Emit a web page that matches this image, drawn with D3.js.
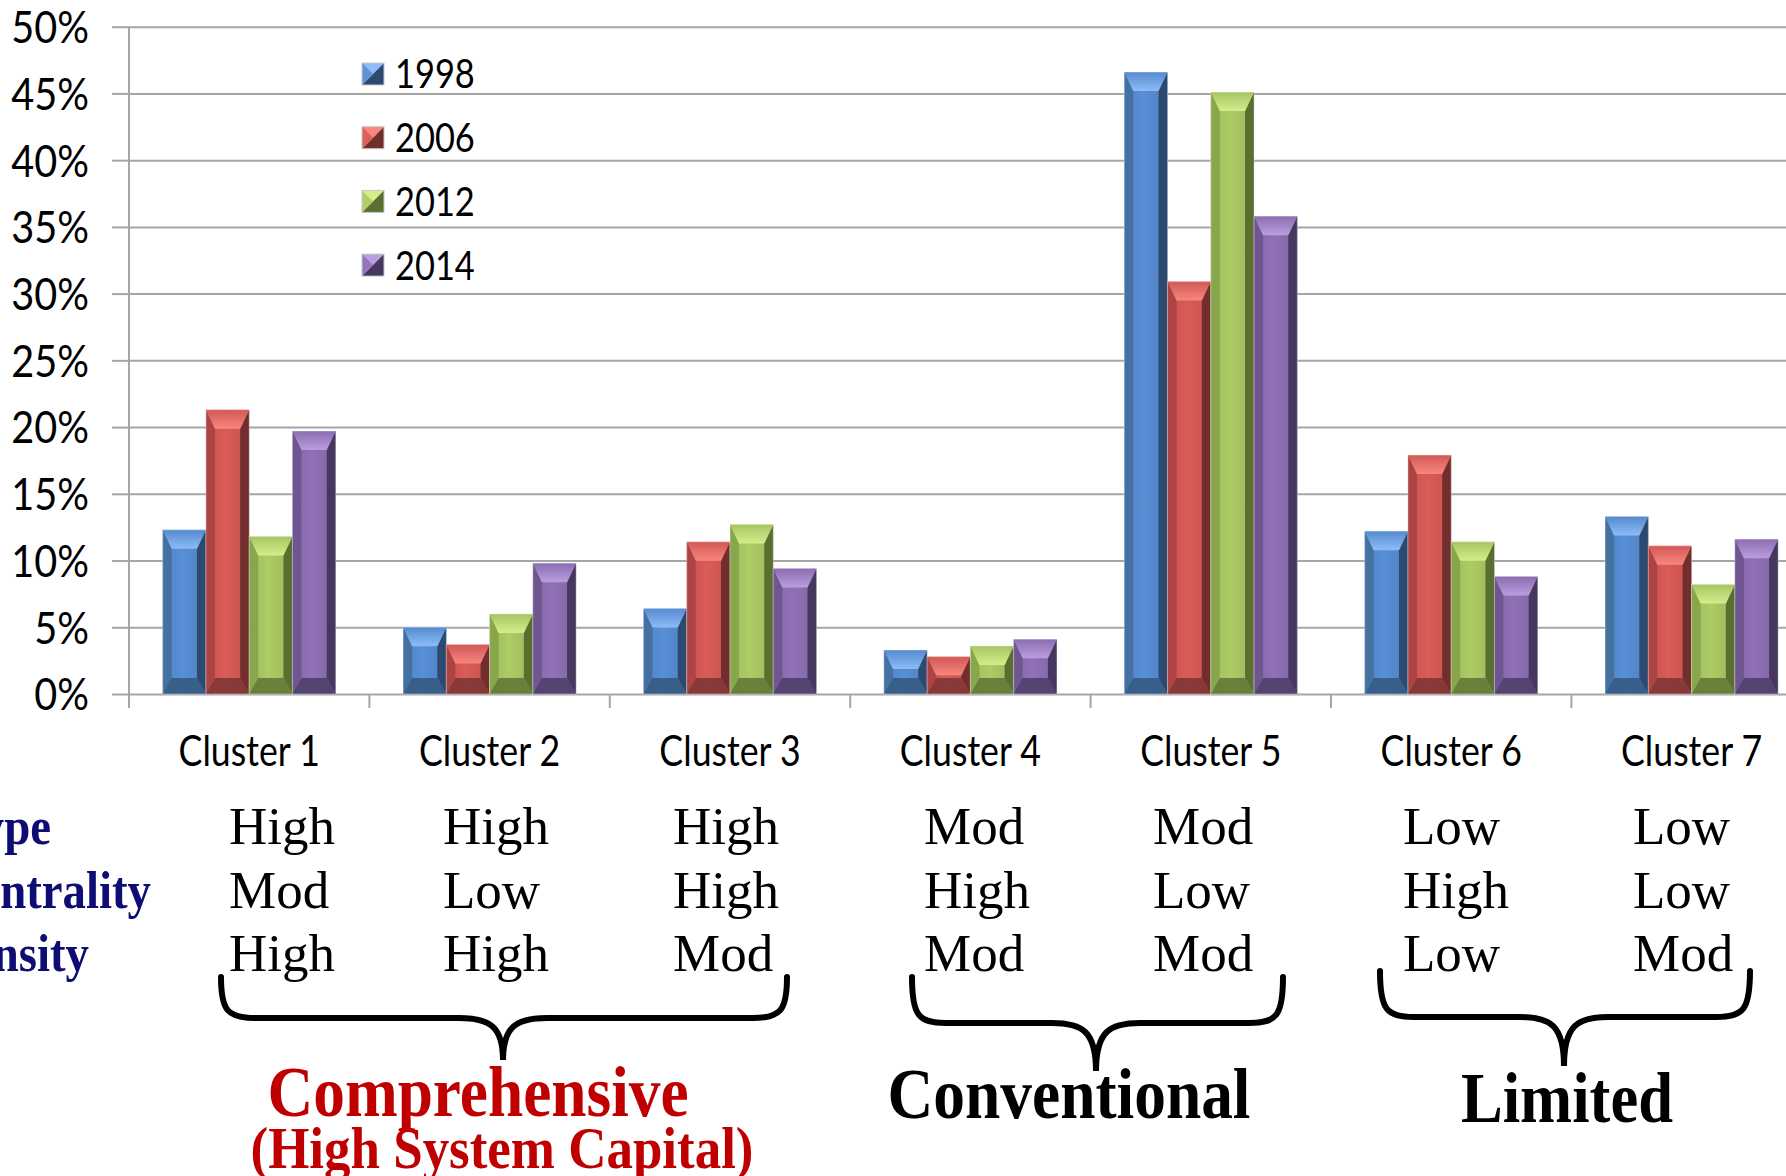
<!DOCTYPE html>
<head>
<meta charset="utf-8">
<style>
  body { margin: 0; background: #fff; }
  svg { display: block; }
  .grid line { stroke: #a6a6a6; stroke-width: 2; }
  .grid path { display: none; }
  .axis path, .axis line { stroke: #a6a6a6; stroke-width: 2; }
  .axis text { font-family: Lato, sans-serif; fill: #000; }
</style>
<title>Clusters 1998-2014</title>
</head>
<body>
<svg width="1786" height="1176"></svg>
<script src="https://cdn.jsdelivr.net/npm/d3@7"></script>
<script>

// data
var clusters = ["Cluster 1", "Cluster 2", "Cluster 3", "Cluster 4", "Cluster 5", "Cluster 6", "Cluster 7"];
var years = ["1998", "2006", "2012", "2014"];
var v1998 = [12.3, 5.0, 6.4, 3.3, 46.6, 12.2, 13.3];
var v2006 = [21.3, 3.7, 11.4, 2.8, 30.9, 17.9, 11.1];
var v2012 = [11.8, 6.0, 12.7, 3.6, 45.1, 11.4, 8.2];
var v2014 = [19.7, 9.8, 9.4, 4.1, 35.8, 8.8, 11.6];
var yTicks = [0, 5, 10, 15, 20, 25, 30, 35, 40, 45, 50];

var rowNames = ["Type", "Centrality", "Density"];
var rowType = ["High", "High", "High", "Mod", "Mod", "Low", "Low"];
var rowCentrality = ["Mod", "Low", "High", "High", "Low", "High", "Low"];
var rowDensity = ["High", "High", "Mod", "Mod", "Mod", "Low", "Mod"];

var groupNames = ["Comprehensive", "Conventional", "Limited"];
var groupSub = ["(High System Capital)", "", ""];

var series = [v1998, v2006, v2012, v2014];

// colours: face, left, right, top, bottom
var pal = {
  "1998": ["#558ace", "#44719f", "#2c4a70", "#8dbcf8", "#34577f"],
  "2006": ["#d25855", "#ac4443", "#722e2d", "#f7877f", "#7a3534"],
  "2012": ["#a6c562", "#88a64c", "#5a6e2f", "#d3ee8c", "#5f7434"],
  "2014": ["#8b6db0", "#6f5690", "#45375e", "#b99ee0", "#4b3d66"]
};

var svg = d3.select("svg"),
    W = +svg.attr("width");

var mLeft = 129, mTop = 26.7, mBottom = 694, band = 240.4;

var x0 = d3.scaleBand().domain(clusters).range([mLeft, mLeft + band * clusters.length]);
var x1 = d3.scaleBand().domain(years).range([33.7, band - 33.7]);
var y = d3.scaleLinear().domain([0, 50]).range([mBottom, mTop]);

// condense text (Calibri-like width)
function condense(sel, f) {
  sel.each(function() {
    var len = this.getComputedTextLength();
    d3.select(this).attr("textLength", len * f).attr("lengthAdjust", "spacingAndGlyphs");
  });
}

// gridlines
svg.append("g")
    .attr("class", "grid")
    .attr("transform", "translate(" + mLeft + ",0)")
    .call(d3.axisLeft(y).tickValues(yTicks).tickSize(-(W - mLeft)).tickFormat(""));

// y axis
var yAx = svg.append("g")
    .attr("class", "axis")
    .attr("transform", "translate(" + mLeft + ",0)")
    .call(d3.axisLeft(y).tickValues(yTicks).tickSize(17).tickPadding(23).tickFormat(function(d) { return d + "%"; }));
yAx.select(".domain").attr("d", "M0," + mTop + "V" + (mBottom + 14));
yAx.selectAll("text").style("font-size", "44px").attr("dy", "0.36em").call(condense, 0.9);

// x axis
var xAx = svg.append("g")
    .attr("class", "axis")
    .attr("transform", "translate(0," + mBottom + ")")
    .call(d3.axisBottom(x0).tickSize(0).tickPadding(72));
xAx.select(".domain").remove();
xAx.selectAll(".tick line").remove();
xAx.selectAll("text").style("font-size", "42px").attr("dy", "0").call(condense, 0.85);
svg.append("g").selectAll("line")
    .data(clusters)
  .enter().append("line")
    .attr("x1", function(d) { return x0(d); })
    .attr("x2", function(d) { return x0(d); })
    .attr("y1", mBottom)
    .attr("y2", mBottom + 14)
    .attr("stroke", "#a6a6a6")
    .attr("stroke-width", 2);

// bars
var flat = [];
clusters.forEach(function(c, i) {
  years.forEach(function(yr, j) {
    flat.push({ cluster: c, year: yr, value: series[j][i] });
  });
});

var defs = svg.append("defs");
years.forEach(function(yr) {
  var g = defs.append("linearGradient").attr("id", "face" + yr);
  g.append("stop").attr("offset", "0%").attr("stop-color", d3.color(pal[yr][0]).darker(0.15));
  g.append("stop").attr("offset", "45%").attr("stop-color", d3.color(pal[yr][0]).brighter(0.1));
  g.append("stop").attr("offset", "100%").attr("stop-color", d3.color(pal[yr][0]).darker(0.2));
  var t = defs.append("linearGradient").attr("id", "top" + yr).attr("x1", 0).attr("y1", 0).attr("x2", 0).attr("y2", 1);
  t.append("stop").attr("offset", "0%").attr("stop-color", pal[yr][0]);
  t.append("stop").attr("offset", "100%").attr("stop-color", pal[yr][3]);
});

svg.append("g").selectAll("g")
    .data(flat)
  .enter().append("g")
    .each(function(d) {
      var g = d3.select(this);
      var x = x0(d.cluster) + x1(d.year), w = x1.bandwidth();
      var yt = y(d.value), yb = y(0), h = yb - yt;
      var s = 9, t = Math.min(19, h / 2), b = Math.min(16, h / 2);
      var p = pal[d.year];
      g.append("rect").attr("x", x).attr("y", yt).attr("width", w).attr("height", h)
          .attr("fill", "url(#face" + d.year + ")");
      g.append("polygon").attr("fill", p[1])
          .attr("points", [[x, yt], [x + s, yt + t], [x + s, yb - b], [x, yb]].join(" "));
      g.append("polygon").attr("fill", p[2])
          .attr("points", [[x + w, yt], [x + w - s, yt + t], [x + w - s, yb - b], [x + w, yb]].join(" "));
      g.append("polygon").attr("fill", "url(#top" + d.year + ")")
          .attr("points", [[x, yt], [x + w, yt], [x + w - s, yt + t], [x + s, yt + t]].join(" "));
      g.append("polygon").attr("fill", p[4]).attr("opacity", 0.85)
          .attr("points", [[x, yb], [x + w, yb], [x + w - s, yb - b], [x + s, yb - b]].join(" "));
      g.append("rect").attr("x", x).attr("y", yt).attr("width", w).attr("height", h)
          .attr("fill", "none").attr("stroke", "rgba(255,255,255,0.35)").attr("stroke-width", 1);
    });

// legend
var legend = svg.append("g").attr("transform", "translate(362,63)");
var li = legend.selectAll("g")
    .data(years)
  .enter().append("g")
    .attr("transform", function(d, i) { return "translate(0," + (i * 63.7) + ")"; });
li.append("polygon").attr("fill", function(d) { return pal[d][3]; })
    .attr("points", "0,0 22,0 0,22");
li.append("polygon").attr("fill", function(d) { return pal[d][2]; })
    .attr("points", "22,0 22,22 0,22");
li.append("polygon").attr("fill", function(d) { return pal[d][0]; }).attr("opacity", 0.8)
    .attr("points", "0,0 11,11 0,22");
li.append("rect").attr("width", 22).attr("height", 22)
    .attr("fill", "none").attr("stroke", "#c8c8c8").attr("stroke-width", 1);
li.append("text")
    .attr("x", 33).attr("y", 11).attr("dy", "0.36em")
    .style("font-family", "Lato, sans-serif").style("font-size", "40px")
    .text(function(d) { return d; })
    .call(condense, 0.86);

// property table
var tableX = [229, 443, 673, 924, 1153, 1403, 1633];
var rowY = [844, 908, 971];
var rows = [rowType, rowCentrality, rowDensity];
var serif = "'Liberation Serif', 'Times New Roman', serif";

svg.append("g").selectAll("text")
    .data(rowNames)
  .enter().append("text")
    .attr("x", function(d, i) { return [51, 151, 89][i]; })
    .attr("y", function(d, i) { return rowY[i]; })
    .attr("text-anchor", "end")
    .style("font-family", serif).style("font-weight", "bold").style("font-size", "52px")
    .style("fill", "#0d0d73")
    .text(function(d) { return d; })
    .call(condense, 0.9);

rows.forEach(function(r, i) {
  svg.append("g").selectAll("text")
      .data(r)
    .enter().append("text")
      .attr("x", function(d, j) { return tableX[j]; })
      .attr("y", rowY[i])
      .style("font-family", serif).style("font-size", "53px")
      .text(function(d) { return d; });
});

// braces
var braces = [
  { x1: 221, x2: 787, tip: 503, yt: 977, ym: 1018, yp: 1060 },
  { x1: 912, x2: 1283, tip: 1096, yt: 977, ym: 1023, yp: 1071 },
  { x1: 1380, x2: 1750, tip: 1564, yt: 971, ym: 1017, yp: 1066 }
];
function bracePath(b) {
  var r = 34, q = 44;
  return "M" + b.x1 + "," + b.yt +
    "C" + b.x1 + "," + (b.ym - 8) + " " + (b.x1 + 6) + "," + b.ym + " " + (b.x1 + r) + "," + b.ym +
    "L" + (b.tip - q) + "," + b.ym +
    "C" + (b.tip - 14) + "," + b.ym + " " + b.tip + "," + (b.ym + 8) + " " + b.tip + "," + b.yp +
    "C" + b.tip + "," + (b.ym + 8) + " " + (b.tip + 14) + "," + b.ym + " " + (b.tip + q) + "," + b.ym +
    "L" + (b.x2 - r) + "," + b.ym +
    "C" + (b.x2 - 6) + "," + b.ym + " " + b.x2 + "," + (b.ym - 8) + " " + b.x2 + "," + b.yt;
}
svg.append("g").selectAll("path")
    .data(braces)
  .enter().append("path")
    .attr("d", bracePath)
    .attr("fill", "none")
    .attr("stroke", "#000")
    .attr("stroke-width", 6)
    .attr("stroke-linecap", "round");

// group labels
var groupPos = [
  { x: 478, y: 1116, w: 421, c: "#c00000" },
  { x: 1069, y: 1118, w: 363, c: "#000" },
  { x: 1567, y: 1122, w: 212, c: "#000" }
];
svg.append("g").selectAll("text")
    .data(groupNames)
  .enter().append("text")
    .attr("x", function(d, i) { return groupPos[i].x; })
    .attr("y", function(d, i) { return groupPos[i].y; })
    .attr("text-anchor", "middle")
    .attr("textLength", function(d, i) { return groupPos[i].w; })
    .attr("lengthAdjust", "spacingAndGlyphs")
    .style("font-family", serif).style("font-weight", "bold").style("font-size", "72px")
    .style("fill", function(d, i) { return groupPos[i].c; })
    .text(function(d) { return d; });

svg.append("text")
    .attr("x", 502).attr("y", 1168)
    .attr("text-anchor", "middle")
    .attr("textLength", 503).attr("lengthAdjust", "spacingAndGlyphs")
    .style("font-family", serif).style("font-weight", "bold").style("font-size", "60px")
    .style("fill", "#c00000")
    .text(groupSub[0]);

</script>
</body>
